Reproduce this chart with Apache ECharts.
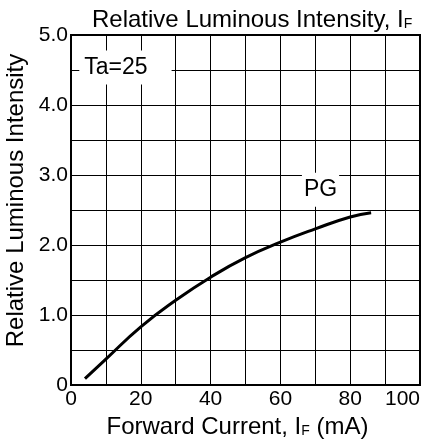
<!DOCTYPE html>
<html>
<head>
<meta charset="utf-8">
<script src="https://cdn.jsdelivr.net/npm/echarts@6/dist/echarts.min.js"></script>
<style>
  html, body { margin: 0; padding: 0; background: #fff; }
  #chart { width: 429px; height: 439px; }
</style>
</head>
<body>
<div id="chart"></div>
<script>
// forward current (mA) vs relative luminous intensity, PG curve
const current = [4, 10, 20, 30, 40, 50, 60, 70, 80, 86];
const intensity = [0.09, 0.37, 0.83, 1.21, 1.54, 1.82, 2.04, 2.23, 2.40, 2.46];
const xTickLabels = ['0', '20', '40', '60', '80', '100'];
const yTickLabels = ['0', '1.0', '2.0', '3.0', '4.0', '5.0'];

const FONT = 'Liberation Sans, Arial, sans-serif';
const subStyle = { fontSize: 14, fontFamily: FONT, color: '#000', verticalAlign: 'bottom', padding: [0, 0, 1, 0] };

const chart = echarts.init(document.getElementById('chart'), null, { renderer: 'canvas' });

chart.setOption({
  animation: false,
  backgroundColor: '#fff',
  title: {
    text: 'Relative Luminous Intensity, I{sub|F}',
    left: 87,
    top: 3,
    textStyle: {
      fontFamily: FONT, fontSize: 24, fontWeight: 'normal', color: '#000',
      rich: { sub: subStyle }
    }
  },
  grid: {
    left: 71, right: 9, top: 35, bottom: 54,
    outerBoundsMode: 'none', containLabel: false,
    show: true, borderColor: '#000', borderWidth: 2
  },
  xAxis: {
    type: 'value', min: 0, max: 100, interval: 10,
    name: 'Forward Current, I{sub|F} (mA)',
    nameLocation: 'middle', nameGap: 30,
    nameTextStyle: { fontFamily: FONT, fontSize: 24, color: '#000', padding: [0, 16, 0, 0], rich: { sub: subStyle } },
    axisLine: { show: true, lineStyle: { color: '#000', width: 2 } },
    axisTick: { show: false },
    axisLabel: {
      fontFamily: FONT, fontSize: 21, color: '#000', margin: 4,
      alignMaxLabel: 'right',
      formatter: v => (v % 20 === 0 ? xTickLabels[v / 20] : '')
    },
    splitLine: { show: true, lineStyle: { color: '#000', width: 1 } }
  },
  yAxis: {
    type: 'value', min: 0, max: 5, interval: 0.5,
    name: 'Relative Luminous Intensity',
    nameLocation: 'middle', nameGap: 39,
    nameTextStyle: { fontFamily: FONT, fontSize: 24, color: '#000', padding: [0, 0, 0, 19] },
    axisLine: { show: true, lineStyle: { color: '#000', width: 2 } },
    axisTick: { show: false },
    axisLabel: {
      fontFamily: FONT, fontSize: 21, color: '#000', margin: 3,
      formatter: v => (Math.abs(v - Math.round(v)) < 1e-6 ? yTickLabels[Math.round(v)] : '')
    },
    splitLine: { show: true, lineStyle: { color: '#000', width: 1 } }
  },
  series: [
    {
      type: 'line',
      data: current.map((c, i) => [c, intensity[i]]),
      smooth: true,
      showSymbol: false,
      lineStyle: { color: '#000', width: 3 }
    },
    {
      type: 'scatter',
      symbolSize: 0,
      silent: true,
      itemStyle: { opacity: 1 },
      data: [
        { value: [15.6, 4.535], name: 'Ta=25', label: { padding: [6, 24, 5, 5] } },
        { value: [71.5, 2.79], name: 'PG', label: { padding: [6, 2, 5, 2] } }
      ],
      label: {
        show: true, position: 'inside', formatter: '{b}',
        fontFamily: FONT, fontSize: 23, color: '#000', opacity: 1,
        backgroundColor: '#fff'
      }
    }
  ]
});
</script>
</body>
</html>
